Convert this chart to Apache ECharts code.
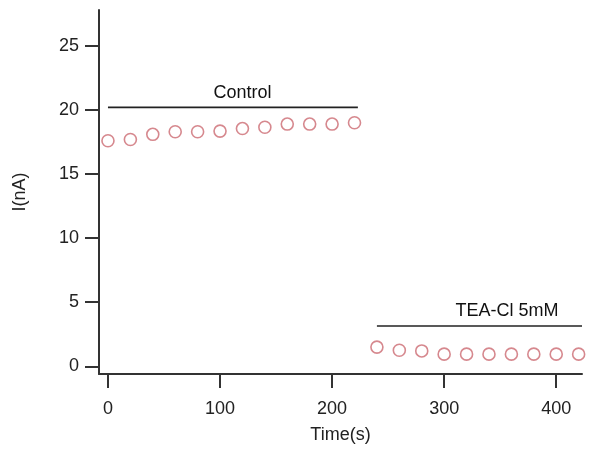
<!DOCTYPE html>
<html>
<head>
<meta charset="utf-8">
<script src="https://cdn.jsdelivr.net/npm/echarts@6/dist/echarts.min.js"></script>
<style>
  html, body { margin: 0; padding: 0; background: #fff; }
  #chart { width: 590px; height: 449px; }
</style>
</head>
<body>
<div id="chart"></div>
<script>
// Sample times (s) and measured current (nA)
const controlTimes = [0, 20, 40, 60, 80, 100, 120, 140, 160, 180, 200, 220];
const controlCurrent = [17.6, 17.7, 18.1, 18.3, 18.3, 18.35, 18.55, 18.65, 18.9, 18.9, 18.9, 19.0];
const teaTimes = [240, 260, 280, 300, 320, 340, 360, 380, 400, 420];
const teaCurrent = [1.5, 1.25, 1.2, 0.95, 0.95, 0.95, 0.95, 0.95, 0.95, 0.95];

// Condition bars: label, start time, end time, level (nA)
const barNames = ['Control', 'TEA-Cl 5mM'];
const barStart = [0, 240];
const barEnd = [223, 423];
const barLevel = [20.2, 3.15];
const barLabelLevel = [21.3, 4.35];
const barLabelTime = [120, 356];

// Axis ticks
const xTicks = [0, 100, 200, 300, 400];
const yTicks = [0, 5, 10, 15, 20, 25];

const axisColor = '#333';
const font = 'Liberation Sans, Arial, sans-serif';
const markerColor = '#cc6a72';

const series = [
  {
    type: 'scatter',
    data: controlTimes.map((t, i) => [t, controlCurrent[i]]),
    symbol: 'circle',
    symbolSize: 12,
    itemStyle: { color: 'rgba(255,255,255,0)', borderColor: markerColor, borderWidth: 1.6 },
    silent: true
  },
  {
    type: 'scatter',
    data: teaTimes.map((t, i) => [t, teaCurrent[i]]),
    symbol: 'circle',
    symbolSize: 12,
    itemStyle: { color: 'rgba(255,255,255,0)', borderColor: markerColor, borderWidth: 1.6 },
    silent: true
  }
];

barNames.forEach((name, i) => {
  series.push({
    type: 'line',
    data: [[barStart[i], barLevel[i]], [barEnd[i], barLevel[i]]],
    symbol: 'none',
    lineStyle: { color: '#222', width: 1.6 },
    silent: true
  });
  series.push({
    type: 'scatter',
    data: [[barLabelTime[i], barLabelLevel[i]]],
    symbolSize: 1,
    itemStyle: { color: 'rgba(0,0,0,0)' },
    label: {
      show: true,
      position: 'inside',
      formatter: name,
      color: '#111',
      opacity: 1,
      textBorderWidth: 0,
      fontFamily: font,
      fontSize: 18
    },
    silent: true
  });
});

const chart = echarts.init(document.getElementById('chart'), null, { renderer: 'canvas' });
chart.setOption({
  animation: false,
  backgroundColor: '#fff',
  grid: { left: 99, right: 8, top: 10, bottom: 75, containLabel: false },
  xAxis: {
    type: 'value',
    min: -8,
    max: 423,
    name: 'Time(s)',
    nameLocation: 'middle',
    nameGap: 52,
    nameTextStyle: { color: '#222', fontFamily: font, fontSize: 18 },
    axisLine: { show: true, onZero: false, lineStyle: { color: axisColor, width: 2 } },
    axisTick: { show: true, customValues: xTicks, length: 14, lineStyle: { color: axisColor, width: 2 } },
    axisLabel: { customValues: xTicks, margin: 26, color: '#222', fontFamily: font, fontSize: 18 },
    splitLine: { show: false }
  },
  yAxis: {
    type: 'value',
    min: -0.6,
    max: 27.8,
    name: 'I(nA)',
    nameLocation: 'middle',
    nameGap: 70,
    nameRotate: 90,
    nameTextStyle: { color: '#222', fontFamily: font, fontSize: 18 },
    axisLine: { show: true, onZero: false, lineStyle: { color: axisColor, width: 2 } },
    axisTick: { show: true, customValues: yTicks, length: 14, lineStyle: { color: axisColor, width: 2 } },
    axisLabel: { customValues: yTicks, margin: 20, color: '#222', fontFamily: font, fontSize: 18 },
    splitLine: { show: false }
  },
  series: series
});
</script>
</body>
</html>
